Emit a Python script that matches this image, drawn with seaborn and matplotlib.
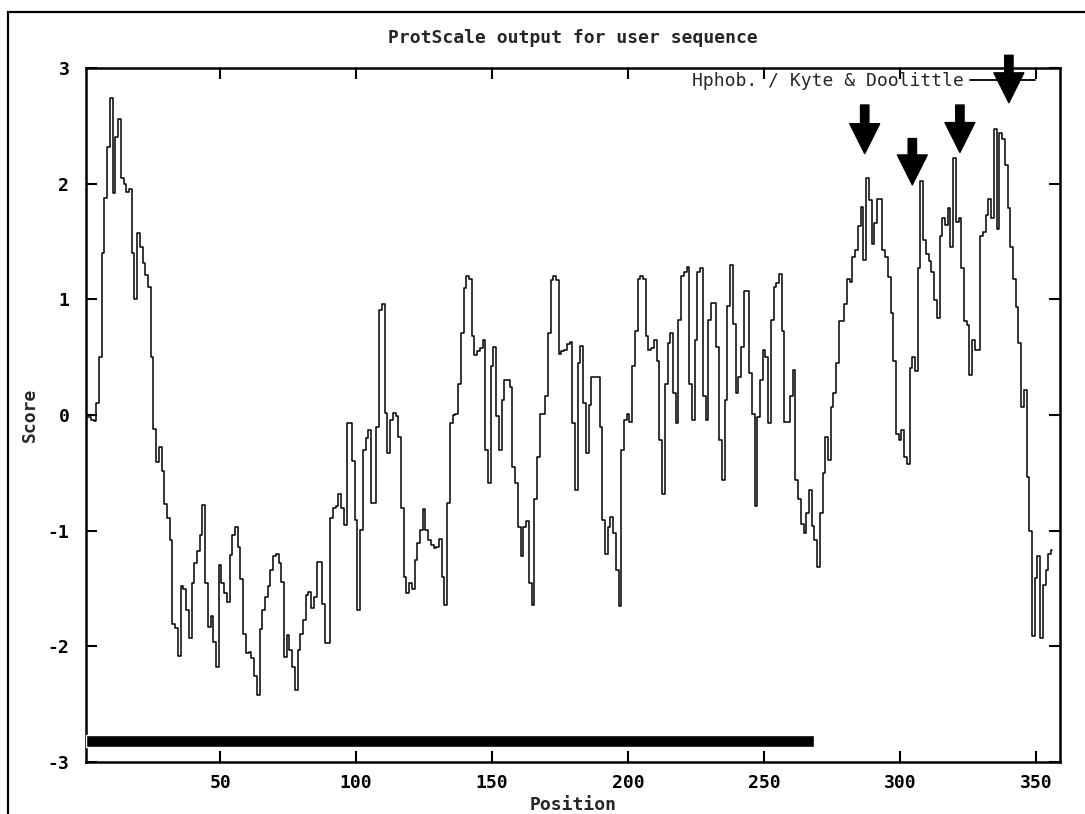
import numpy as np
import pandas as pd
import matplotlib
matplotlib.use("Agg")
import matplotlib.pyplot as plt
from matplotlib.patches import Rectangle
import seaborn as sns

# ---------------- data ----------------
scores = [
    -0.02, -0.02, -0.04, -0.05, 0.10, 0.50, 1.40, 1.88, 2.32, 2.74,
    1.92, 2.40, 2.56, 2.05, 2.00, 1.93, 1.95, 1.40, 1.00, 1.57,
    1.45, 1.31, 1.21, 1.11, 0.50, -0.12, -0.41, -0.28, -0.48, -0.77,
    -0.89, -1.08, -1.81, -1.84, -2.08, -1.48, -1.50, -1.69, -1.93, -1.45,
    -1.28, -1.18, -1.04, -0.78, -1.45, -1.83, -1.74, -1.96, -2.18, -1.30,
    -1.45, -1.54, -1.62, -1.21, -1.04, -0.97, -1.14, -1.42, -1.89, -2.06,
    -2.05, -2.10, -2.26, -2.42, -1.85, -1.69, -1.57, -1.48, -1.34, -1.22,
    -1.20, -1.28, -1.44, -2.09, -1.90, -2.03, -2.18, -2.38, -2.03, -1.89,
    -1.77, -1.56, -1.53, -1.67, -1.57, -1.27, -1.27, -1.63, -1.97, -1.97,
    -0.89, -0.80, -0.79, -0.68, -0.80, -0.95, -0.07, -0.07, -0.40, -0.91,
    -1.69, -0.99, -0.30, -0.20, -0.13, -0.76, -0.76, -0.10, 0.91, 0.96,
    0.02, -0.33, -0.04, 0.02, -0.01, -0.19, -0.80, -1.40, -1.54, -1.45,
    -1.50, -1.25, -1.11, -0.99, -0.81, -0.99, -1.08, -1.12, -1.15, -1.14,
    -1.07, -1.40, -1.64, -0.76, -0.07, 0.00, 0.01, 0.27, 0.71, 1.10,
    1.20, 1.18, 0.68, 0.52, 0.55, 0.58, 0.65, -0.30, -0.59, 0.42,
    0.59, -0.01, -0.30, 0.13, 0.30, 0.30, 0.24, -0.45, -0.59, -0.97,
    -1.22, -0.97, -0.92, -1.45, -1.64, -0.73, -0.36, 0.01, 0.01, 0.16,
    0.71, 1.17, 1.20, 1.17, 0.53, 0.55, 0.56, 0.61, 0.63, -0.07,
    -0.65, 0.45, 0.60, 0.10, -0.33, 0.09, 0.33, 0.33, 0.33, -0.10,
    -0.91, -1.20, -0.97, -0.88, -1.02, -1.34, -1.65, -0.30, -0.04, 0.01,
    -0.06, 0.42, 0.73, 1.18, 1.20, 1.18, 0.68, 0.56, 0.58, 0.65,
    0.47, -0.22, -0.68, 0.27, 0.62, 0.71, 0.19, -0.07, 0.82, 1.20,
    1.24, 1.28, 0.27, -0.04, 0.65, 1.24, 1.27, 0.16, -0.04, 0.82,
    0.97, 0.97, 0.59, -0.22, -0.56, 0.13, 0.94, 1.30, 0.79, 0.19,
    0.33, 0.59, 1.07, 1.07, 0.36, 0.01, -0.79, -0.02, 0.30, 0.56,
    0.50, -0.07, 0.82, 1.11, 1.14, 1.22, 0.73, -0.06, -0.06, 0.16,
    0.39, -0.56, -0.73, -0.94, -1.02, -0.85, -0.65, -0.96, -1.08, -1.31,
    -0.85, -0.50, -0.19, -0.39, 0.07, 0.19, 0.45, 0.81, 0.81, 0.96,
    1.18, 1.15, 1.37, 1.43, 1.63, 1.80, 1.34, 2.05, 1.86, 1.48,
    1.66, 1.87, 1.87, 1.43, 1.37, 1.19, 0.88, 0.47, -0.16, -0.22,
    -0.13, -0.36, -0.42, 0.41, 0.50, 0.38, 1.27, 2.02, 1.51, 1.39,
    1.33, 1.24, 0.99, 0.84, 1.55, 1.70, 1.64, 1.79, 1.45, 2.22,
    1.67, 1.70, 1.27, 0.81, 0.78, 0.35, 0.65, 0.56, 0.56, 1.55,
    1.58, 1.73, 1.87, 1.70, 2.47, 1.61, 2.44, 2.39, 2.16, 1.79,
    1.45, 1.18, 0.93, 0.62, 0.07, 0.22, -0.54, -1.00, -1.91, -1.41,
    -1.22, -1.93, -1.47, -1.34, -1.20, -1.17,
]
first_position = 1
positions = list(range(first_position, first_position + len(scores)))

series_label = "Hphob. / Kyte & Doolittle"
title_text = "ProtScale output for user sequence"

x_ticks = [50, 100, 150, 200, 250, 300, 350]
x_ticklabels = ["50", "100", "150", "200", "250", "300", "350"]
y_ticks = [-3, -2, -1, 0, 1, 2, 3]
y_ticklabels = ["-3", "-2", "-1", "0", "1", "2", "3"]

# marked peaks (arrows): x position, arrow tail score, arrow tip score
arrow_x = [287, 304.5, 322, 340]
arrow_tail = [2.68, 2.39, 2.68, 3.11]
arrow_tip = [2.26, 1.99, 2.27, 2.70]

# horizontal black bar segment
bar_start = 0.7
bar_end = 268.5
bar_score = -2.82

# ---------------- plotting ----------------
sns.set_style("ticks")
plt.rcParams["font.family"] = ["DejaVu Sans Mono", "DejaVu Sans"]

fig = plt.figure(figsize=(10.85, 8.14), dpi=100)
W, H = 1085, 814
ax = fig.add_axes([86 / W, 1 - 762 / H, (1060 - 86) / W, (762 - 68) / H])

df = pd.DataFrame({"Position": positions, "Score": scores})
sns.lineplot(data=df, x="Position", y="Score", ax=ax, color="black",
             linewidth=1.1, label=series_label, legend=False,
             drawstyle="steps-mid")

ax.barh(y=bar_score, width=bar_end - bar_start, left=bar_start, height=0.1,
        color="black", align="center", zorder=3)

for xa, yt, yh in zip(arrow_x, arrow_tail, arrow_tip):
    ax.annotate("", xy=(xa, yh), xytext=(xa, yt), annotation_clip=False,
                arrowprops=dict(arrowstyle="simple,head_length=0.5,head_width=0.5,tail_width=0.14",
                                mutation_scale=43, color="black",
                                shrinkA=0, shrinkB=0))

FS = 13
ax.set_xlim(0.7, 358.8)
ax.set_ylim(-3, 3)
ax.set_xticks(x_ticks)
ax.set_xticklabels(x_ticklabels, fontsize=FS, fontweight="bold")
ax.set_yticks(y_ticks)
ax.set_yticklabels(y_ticklabels, fontsize=FS, fontweight="bold")
ax.tick_params(axis="both", direction="in", length=8, width=1.5,
               top=True, right=True, colors="black")
ax.tick_params(axis="x", pad=9)
ax.tick_params(axis="y", pad=12)
for s in ax.spines.values():
    s.set_visible(True)
    s.set_linewidth(1.8)
    s.set_color("black")

ax.set_xlabel("")
ax.set_ylabel("")
fig.text(573 / W, 1 - 805 / H, "Position", ha="center", va="center",
         fontsize=FS, fontweight="bold")
fig.text(30 / W, 1 - 415 / H, "Score", ha="center", va="center",
         rotation=90, fontsize=FS, fontweight="bold")
fig.text(573 / W, 1 - 38 / H, title_text, ha="center", va="center",
         fontsize=FS, fontweight="bold")

leg = ax.legend(loc="upper right", bbox_to_anchor=((1035 - 86) / 974, (762 - 72) / 694),
                frameon=False, markerfirst=False, handlelength=3.6,
                handletextpad=0.35, borderaxespad=0, borderpad=0,
                prop={"family": "DejaVu Sans Mono", "size": FS})
for l in leg.get_lines():
    l.set_linewidth(1.3)

fig.patches.append(Rectangle((8 / W, -0.05), 1.2, 1 - 12 / H + 0.05,
                             transform=fig.transFigure, fill=False,
                             edgecolor="black", linewidth=1.6))

fig.savefig("out.png", dpi=100, facecolor="white")
